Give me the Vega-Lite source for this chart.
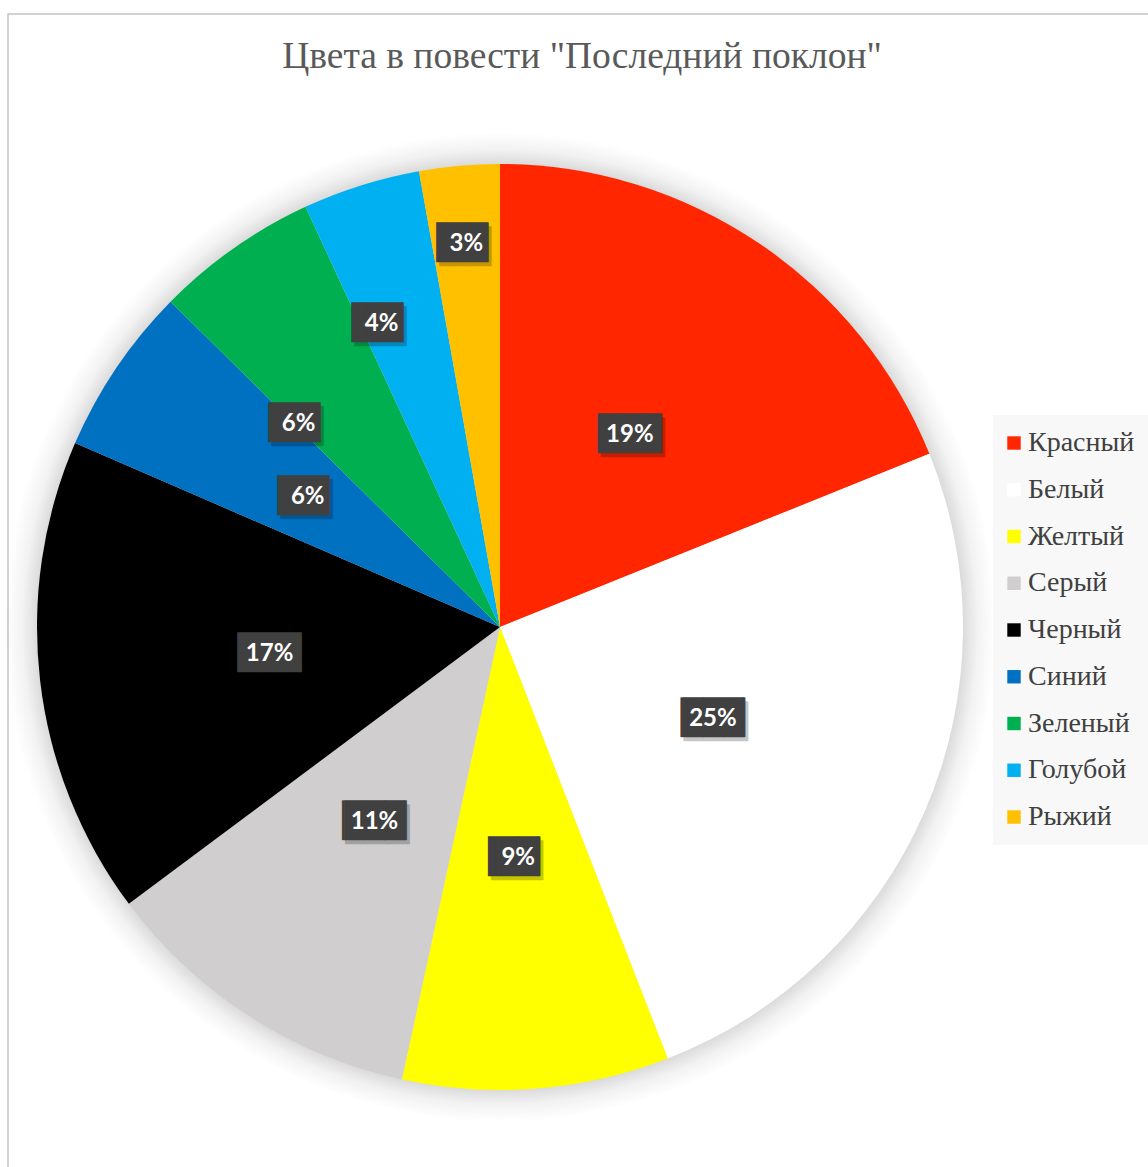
{
  "$schema": "https://vega.github.io/schema/vega-lite/v6.json",
  "autosize": {"type": "none"},
  "padding": {"left": 8, "top": 14, "right": 0, "bottom": 0},
  "width": 1140,
  "height": 1153,
  "background": "white",
  "title": {
    "text": "Цвета в повести \"Последний поклон\"",
    "font": "Liberation Serif",
    "fontSize": 37.5,
    "fontWeight": "normal",
    "color": "#595959",
    "anchor": "middle",
    "baseline": "alphabetic",
    "offset": -92,
    "dx": 4
  },
  "config": {
    "view": {"stroke": null},
    "legend": {
      "orient": "none",
      "legendX": 985,
      "legendY": 401,
      "fillColor": "#f8f8f8",
      "padding": 14,
      "symbolType": "square",
      "symbolSize": 180,
      "symbolStrokeWidth": 0,
      "symbolOffset": -7,
      "labelFont": "Liberation Serif",
      "labelFontSize": 28,
      "labelColor": "#404040",
      "rowPadding": 18.75,
      "labelOffset": 0
    }
  },
  "data": {
    "values": [
      {"name": "Красный", "value": 18.9, "label": "19%", "n": 1},
      {"name": "Белый", "value": 25.2, "label": "25%", "n": 2},
      {"name": "Желтый", "value": 9.3, "label": "9%", "n": 3},
      {"name": "Серый", "value": 11.4, "label": "11%", "n": 4},
      {"name": "Черный", "value": 16.7, "label": "17%", "n": 5},
      {"name": "Синий", "value": 5.9, "label": "6%", "n": 6},
      {"name": "Зеленый", "value": 5.7, "label": "6%", "n": 7},
      {"name": "Голубой", "value": 4.1, "label": "4%", "n": 8},
      {"name": "Рыжий", "value": 2.8, "label": "3%", "n": 9}
    ]
  },
  "layer": [
    {
      "data": {"values": [{}]},
      "mark": {"type": "rect", "fill": null, "stroke": "#c4c4c4", "strokeWidth": 1.5, "strokeDash": [1140, 2293, 1155, 1]},
      "encoding": {}
    },
    {
      "data": {"values": [{}]},
      "mark": {
        "type": "arc", "x": 492, "y": 613, "outerRadius": 495, "theta": 0, "theta2": 6.2832,
        "fill": {
          "gradient": "radial", "x1": 0.5, "y1": 0.5, "r1": 0.4677, "x2": 0.5, "y2": 0.5, "r2": 0.5,
          "stops": [
            {"offset": 0, "color": "rgba(0,0,0,0.14)"},
            {"offset": 0.45, "color": "rgba(0,0,0,0.05)"},
            {"offset": 1, "color": "rgba(0,0,0,0)"}
          ]
        }
      },
      "encoding": {}
    },
    {
      "mark": {"type": "arc", "x": 492, "y": 613, "outerRadius": 463},
      "encoding": {
        "theta": {"field": "value", "type": "quantitative", "stack": true},
        "order": {"field": "n", "type": "quantitative"},
        "color": {
          "field": "name", "type": "nominal",
          "scale": {
            "domain": ["Красный", "Белый", "Желтый", "Серый", "Черный", "Синий", "Зеленый", "Голубой", "Рыжий"],
            "range": ["#ff2600", "#ffffff", "#ffff00", "#d0cece", "#000000", "#0070c0", "#00b050", "#00b0f0", "#ffc000"]
          },
          "legend": {"title": null}
        }
      }
    },
    {
      "mark": {
        "type": "text", "x": 492, "y": 613,
        "radius": {"expr": "datum.name == 'Рыжий' ? 384 : datum.name == 'Голубой' ? 325 : datum.name == 'Зеленый' ? 286 : 232"},
        "thetaOffset": {"expr": "datum.name == 'Зеленый' ? -0.169 : datum.name == 'Голубой' ? -0.068 : 0"},
        "font": "DejaVu Sans Mono", "fontSize": 33.5, "align": "center", "baseline": "middle",
        "color": "#000000", "opacity": 0.22, "dx": 3, "dy": 4
      },
      "encoding": {
        "theta": {"field": "value", "type": "quantitative", "stack": true},
        "order": {"field": "n", "type": "quantitative"},
        "text": {"condition": {"test": "length(datum.label) > 2", "value": "▕███▏"}, "value": "▐██▏"}
      }
    },
    {
      "mark": {
        "type": "text", "x": 492, "y": 613,
        "radius": {"expr": "datum.name == 'Рыжий' ? 384 : datum.name == 'Голубой' ? 325 : datum.name == 'Зеленый' ? 286 : 232"},
        "thetaOffset": {"expr": "datum.name == 'Зеленый' ? -0.169 : datum.name == 'Голубой' ? -0.068 : 0"},
        "font": "DejaVu Sans Mono", "fontSize": 33.5, "align": "center", "baseline": "middle",
        "color": "#404040"
      },
      "encoding": {
        "theta": {"field": "value", "type": "quantitative", "stack": true},
        "order": {"field": "n", "type": "quantitative"},
        "text": {"condition": {"test": "length(datum.label) > 2", "value": "▕███▏"}, "value": "▐██▏"}
      }
    },
    {
      "mark": {
        "type": "text", "x": 492, "y": 613,
        "radius": {"expr": "datum.name == 'Рыжий' ? 384 : datum.name == 'Голубой' ? 325 : datum.name == 'Зеленый' ? 286 : 232"},
        "thetaOffset": {"expr": "datum.name == 'Зеленый' ? -0.169 : datum.name == 'Голубой' ? -0.068 : 0"},
        "font": "Lato", "fontWeight": "bold", "fontSize": 24, "align": "center", "baseline": "middle",
        "color": "#ffffff"
      },
      "encoding": {
        "theta": {"field": "value", "type": "quantitative", "stack": true},
        "order": {"field": "n", "type": "quantitative"},
        "text": {"field": "label", "type": "nominal"}
      }
    }
  ]
}
